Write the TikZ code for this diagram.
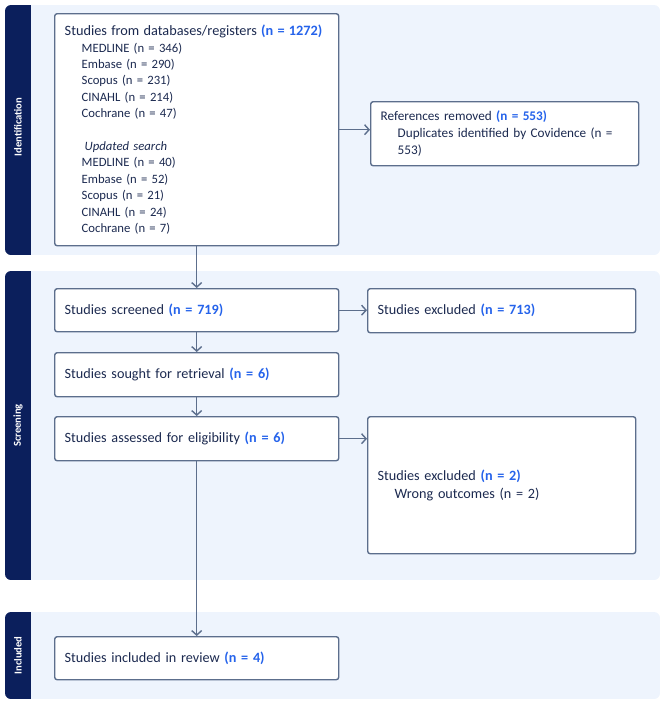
\documentclass[tikz,border=0pt]{standalone}
\usepackage{fontspec}
\setmainfont{Carlito}
\usetikzlibrary{arrows.meta}
\definecolor{bandbg}{HTML}{EEF4FD}
\definecolor{navy}{HTML}{0B1F5C}
\definecolor{boxline}{HTML}{5C6E8C}
\definecolor{txt}{HTML}{1C2A50}
\definecolor{numblue}{HTML}{2563EB}
\newcommand{\nn}[1]{\textcolor{numblue}{\textbf{#1}}}
\newcommand{\bigline}{\fontsize{14.3}{16.4}\selectfont}
\begin{document}
\begin{tikzpicture}[x=1pt,y=-1pt,
  box/.style={draw=boxline, line width=1.4pt, fill=white, rounded corners=2.5pt,
    inner xsep=10pt, inner ysep=0pt, align=left, text=txt,
    font=\fontsize{14.2}{18.5}\selectfont},
  arr/.style={draw=boxline, line width=1.4pt, -{Straight Barb[length=4.5pt,width=10pt,line width=1.4pt]}},
  sidelabel/.style={rotate=90, text=white, font=\fontsize{10.6}{12}\selectfont\bfseries}
]
\useasboundingbox (0,0) rectangle (663,704);

% bands
\begin{scope}
  \clip[rounded corners=6pt] (5,5) rectangle (660,255);
  \fill[bandbg] (5,5) rectangle (660,255);
  \fill[navy] (5,5) rectangle (31,255);
\end{scope}
\begin{scope}
  \clip[rounded corners=6pt] (5,271) rectangle (660,580);
  \fill[bandbg] (5,271) rectangle (660,580);
  \fill[navy] (5,271) rectangle (31,580);
\end{scope}
\begin{scope}
  \clip[rounded corners=6pt] (5,612) rectangle (660,699);
  \fill[bandbg] (5,612) rectangle (660,699);
  \fill[navy] (5,612) rectangle (31,699);
\end{scope}
\node[sidelabel] (lid) at (18,127) {Identification};
\node[sidelabel] (lsc) at (18,425.5) {Screening};
\node[sidelabel] (lin) at (18,655.5) {Included};

% boxes
\node[box, anchor=north west, text width=264pt, minimum height=232pt,
      font=\fontsize{12.7}{16.4}\selectfont] (b1) at (54,13)
 {\mbox{\bigline Studies from databases/registers \nn{(n = 1272)}}\\
  \hspace*{17pt}MEDLINE (n = 346)\\
  \hspace*{17pt}Embase (n = 290)\\
  \hspace*{17pt}Scopus (n = 231)\\
  \hspace*{17pt}CINAHL (n = 214)\\
  \hspace*{17pt}Cochrane (n = 47)\\
  \mbox{}\\
  \hspace*{20pt}\textit{Updated search}\\
  \hspace*{17pt}MEDLINE (n = 40)\\
  \hspace*{17pt}Embase (n = 52)\\
  \hspace*{17pt}Scopus (n = 21)\\
  \hspace*{17pt}CINAHL (n = 24)\\
  \hspace*{17pt}Cochrane (n = 7)};
\node[box, anchor=north west, text width=248pt, minimum height=64pt,
      font=\fontsize{13.2}{17}\selectfont] (ref) at (370,101)
 {References removed \nn{(n = 553)}\\
  \hspace*{17pt}Duplicates identified by Covidence (n =\\
  \hspace*{17pt}553)};

\node[box, anchor=north west, text width=264pt, minimum height=43pt] (scr) at (54,288)
 {Studies screened \nn{(n = 719)}};
\node[box, anchor=north west, text width=248pt, minimum height=44pt] (ex1) at (367,288)
 {Studies excluded \nn{(n = 713)}};
\node[box, anchor=north west, text width=264pt, minimum height=44pt] (sgt) at (54,352)
 {Studies sought for retrieval \nn{(n = 6)}};
\node[box, anchor=north west, text width=264pt, minimum height=44pt] (ass) at (54,416)
 {Studies assessed for eligibility \nn{(n = 6)}};
\node[box, anchor=north west, text width=248pt, minimum height=137pt] (ex2) at (367,416)
 {Studies excluded \nn{(n = 2)}\\
  \hspace*{17pt}Wrong outcomes (n = 2)};
\node[box, anchor=north west, text width=264pt, minimum height=43pt] (inc) at (54,636)
 {Studies included in review \nn{(n = 4)}};

% connectors
\draw[arr] ([yshift=4pt]b1.east |- ref.west) -- ([yshift=4pt]ref.west);
\draw[arr] (b1.south) -- (scr.north);
\draw[arr] (scr.east) -- (scr.east -| ex1.west);
\draw[arr] (scr.south) -- (sgt.north);
\draw[arr] (sgt.south) -- (ass.north);
\draw[arr] (ass.east) -- (ass.east -| ex2.west);
\draw[arr] (ass.south) -- (inc.north);
\end{tikzpicture}
\end{document}
